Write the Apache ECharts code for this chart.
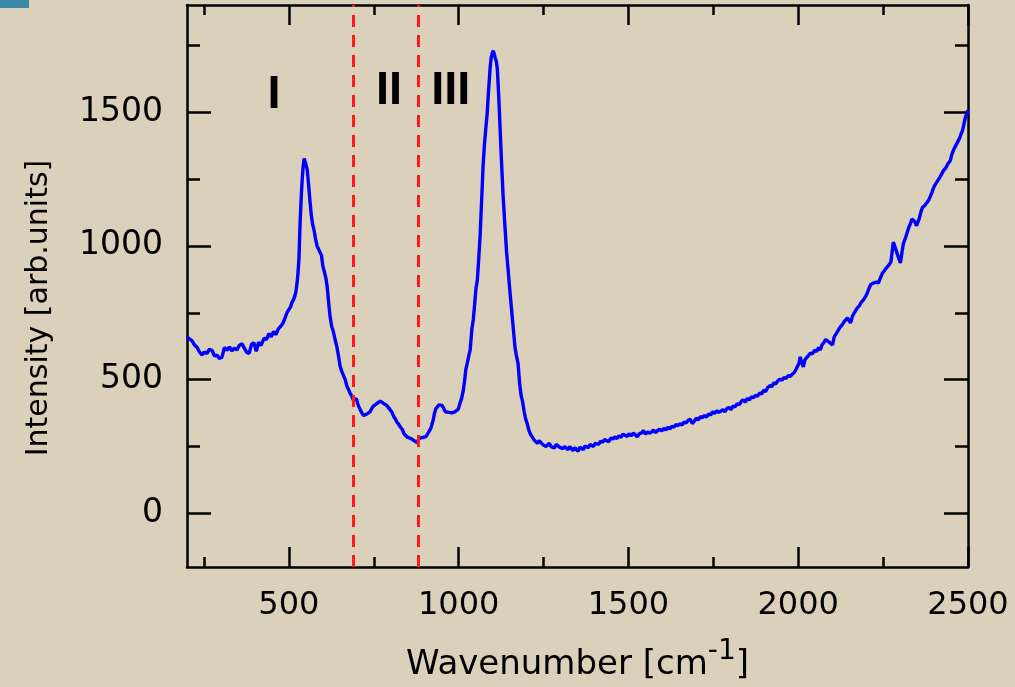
<!DOCTYPE html>
<html>
<head>
<meta charset="utf-8">
<script src="https://cdn.jsdelivr.net/npm/echarts@6/dist/echarts.min.js"></script>
<style>
html,body{margin:0;padding:0;background:#dbd1bb;}
#chart{width:1015px;height:687px;}
</style>
</head>
<body>
<div id="chart"></div>
<script>
// [wavenumber (cm^-1), intensity (arb. units)]
const spectrum = [
[200,660],[208,652],[215,645],[222,630],[229,622],[236,605],[244,592],[251,603],[259,598],[266,614],
[274,609],[281,588],[288,592],[295,579],[303,584],[310,620],[318,610],[325,622],[332,608],[339,618],
[347,611],[354,628],[362,634],[369,618],[376,602],[383,598],[390,632],[397,638],[404,606],[411,640],
[418,628],[427,655],[434,650],[441,672],[448,660],[455,680],[462,668],[469,690],[476,700],[483,712],
[490,735],[495,752],[500,745],[505,772],[509,788],[514,800],[518,815],[521,830],[524,860],[527,900],
[530,960],[533,1085],[536,1170],[539,1245],[542,1295],[545,1327],[548,1322],[551,1300],[554,1285],[558,1230],
[562,1170],[566,1115],[570,1080],[574,1060],[578,1030],[583,1000],[587,995],[592,975],[596,965],[600,925],
[604,905],[609,880],[613,846],[617,790],[621,740],[626,700],[631,680],[636,650],[641,625],[646,590],
[651,550],[656,530],[661,515],[666,500],[671,475],[676,462],[680,450],[685,440],[689,425],[694,420],
[699,428],[704,405],[710,388],[715,376],[720,366],[725,362],[730,372],[735,370],[739,380],[744,392],
[748,400],[753,395],[758,410],[763,416],[769,420],[774,418],[778,412],[783,414],[788,404],[793,398],
[798,388],[804,377],[809,362],[814,352],[819,340],[824,332],[829,322],[834,314],[839,298],[844,296],
[849,285],[854,290],[859,280],[864,282],[869,272],[874,276],[878,265],[883,280],[888,278],[893,284],
[898,290],[903,286],[908,296],[913,300],[918,318],[922,335],[925,350],[929,375],[933,392],[937,398],
[942,406],[946,402],[951,404],[956,392],[961,380],[966,386],[971,378],[976,372],[980,376],[984,370],
[989,380],[994,385],[999,390],[1004,412],[1009,432],[1013,455],[1017,490],[1021,537],[1025,560],[1030,590],
[1034,611],[1039,690],[1043,723],[1047,780],[1051,840],[1055,872],[1059,950],[1063,1032],[1067,1150],[1072,1300],
[1076,1380],[1080,1440],[1084,1495],[1088,1580],[1093,1670],[1096,1705],[1099,1720],[1102,1729],[1105,1715],[1108,1700],
[1111,1690],[1114,1660],[1118,1560],[1122,1440],[1126,1320],[1131,1185],[1136,1080],[1141,980],[1146,905],[1151,830],
[1156,760],[1161,690],[1166,620],[1170,590],[1175,560],[1180,480],[1184,440],[1188,420],[1193,380],[1197,355],
[1202,335],[1207,310],[1212,295],[1217,285],[1222,275],[1227,270],[1232,262],[1237,272],[1242,268],[1247,258],
[1252,262],[1257,250],[1262,244],[1267,262],[1272,250],[1277,255],[1282,245],[1287,258],[1292,260],[1297,248],
[1302,252],[1307,242],[1312,250],[1317,246],[1322,238],[1327,250],[1332,244],[1337,235],[1342,246],[1347,240],
[1352,232],[1357,248],[1362,244],[1367,238],[1372,252],[1377,250],[1382,246],[1387,258],[1392,255],[1397,250],
[1402,262],[1407,265],[1412,258],[1418,270],[1424,266],[1430,276],[1436,272],[1442,268],[1448,282],[1454,278],
[1460,286],[1466,280],[1472,290],[1478,285],[1484,296],[1490,292],[1496,288],[1502,298],[1508,290],[1514,300],
[1520,295],[1526,286],[1532,298],[1538,300],[1544,310],[1550,296],[1556,305],[1562,300],[1568,304],[1574,312],
[1580,302],[1586,310],[1592,315],[1598,308],[1604,318],[1610,312],[1616,322],[1622,316],[1628,326],[1634,322],
[1640,332],[1646,328],[1652,336],[1658,330],[1664,342],[1670,338],[1676,348],[1682,352],[1688,336],[1694,345],
[1700,356],[1706,350],[1712,362],[1718,358],[1724,366],[1730,360],[1736,372],[1742,368],[1748,380],[1754,374],
[1760,384],[1766,378],[1772,382],[1778,388],[1784,380],[1790,392],[1796,396],[1802,388],[1808,402],[1814,398],
[1820,410],[1826,406],[1832,418],[1838,425],[1844,416],[1850,430],[1856,424],[1862,436],[1868,432],[1874,442],
[1880,438],[1886,450],[1892,446],[1898,460],[1904,456],[1910,470],[1916,478],[1922,474],[1928,488],[1934,484],
[1940,496],[1946,502],[1952,498],[1958,508],[1964,504],[1970,515],[1976,512],[1982,520],[1988,526],[1994,540],
[1998,537],[2002,560],[2006,585],[2010,565],[2015,548],[2020,575],[2025,582],[2030,590],[2036,600],[2042,596],
[2048,610],[2054,605],[2060,620],[2065,611],[2070,630],[2076,640],[2081,650],[2086,656],[2091,640],[2096,636],
[2101,630],[2106,660],[2112,672],[2118,685],[2124,697],[2130,706],[2136,718],[2141,725],[2145,731],[2150,720],
[2154,712],[2160,738],[2166,752],[2170,760],[2174,768],[2180,776],[2186,790],[2192,798],[2198,810],[2204,826],
[2208,840],[2213,854],[2219,860],[2224,858],[2230,865],[2236,861],[2242,880],[2248,898],[2253,906],[2258,915],
[2263,921],[2268,930],[2273,940],[2277,947],[2280,1014],[2284,1000],[2288,984],[2292,984],[2297,950],[2301,936],
[2306,980],[2310,1010],[2316,1030],[2321,1050],[2326,1070],[2331,1085],[2335,1100],[2339,1107],[2344,1090],[2348,1075],
[2351,1070],[2356,1100],[2361,1125],[2366,1144],[2372,1150],[2378,1160],[2384,1170],[2389,1185],[2394,1200],[2398,1215],
[2403,1228],[2408,1238],[2413,1245],[2418,1258],[2423,1270],[2428,1282],[2434,1290],[2440,1305],[2444,1312],[2448,1319],
[2452,1340],[2457,1357],[2462,1370],[2467,1382],[2472,1394],[2476,1405],[2480,1420],[2484,1431],[2488,1455],[2492,1479],
[2496,1492],[2500,1506]
];
const xRange = [200, 2500];
const yRange = [-200, 1900];
const xMajorTicks = [500, 1000, 1500, 2000, 2500];
const xMinorTicks = [250, 750, 1250, 1750, 2250];
const yMajorTicks = [0, 500, 1000, 1500];
const yMinorTicks = [250, 750, 1250, 1750];
const boundaryLines = [690, 880];
const regionLabels = [[456, 1562, 'I'], [795, 1580, 'II'], [977, 1580, 'III']];

const FONT = 'DejaVu Sans';
const AX = '#000';
const LW = 2.5;
const plain = v => String(v);

function xAx(pos, ticks, len, main) {
  return {
    type: 'value', gridIndex: 0, position: pos, min: xRange[0], max: xRange[1],
    axisLine: {show: main, onZero: false, lineStyle: {color: AX, width: LW}},
    axisTick: {show: true, inside: true, length: len, customValues: ticks, lineStyle: {color: AX, width: LW}},
    axisLabel: (main && pos === 'bottom') ? {show: true, customValues: xMajorTicks, margin: 23, formatter: plain,
      color: '#000', fontFamily: FONT, fontSize: 32} : {show: false},
    splitLine: {show: false}
  };
}
function yAx(pos, ticks, len, main) {
  return {
    type: 'value', gridIndex: 0, position: pos, min: yRange[0], max: yRange[1],
    axisLine: {show: main, onZero: false, lineStyle: {color: AX, width: LW}},
    axisTick: {show: true, inside: true, length: len, customValues: ticks, lineStyle: {color: AX, width: LW}},
    axisLabel: (main && pos === 'left') ? {show: true, customValues: yMajorTicks, margin: 24, formatter: plain,
      color: '#000', fontFamily: FONT, fontSize: 33} : {show: false},
    splitLine: {show: false}
  };
}

const xAxes = [
  xAx('bottom', xMajorTicks, 20, true),
  xAx('bottom', xMinorTicks, 10, false),
  xAx('top', xMajorTicks, 20, true),
  xAx('top', xMinorTicks, 10, false)
];
xAxes[0].name = '{a|Wavenumber [cm}{s|-1}{a|]}';
xAxes[0].nameLocation = 'middle';
xAxes[0].nameGap = 71;
xAxes[0].nameTextStyle = {
  rich: {
    a: {fontFamily: FONT, fontSize: 34, color: '#000', lineHeight: 44, verticalAlign: 'bottom'},
    s: {fontFamily: FONT, fontSize: 28, color: '#000', lineHeight: 28, verticalAlign: 'top'}
  }
};
const yAxes = [
  yAx('left', yMajorTicks, 24, true),
  yAx('left', yMinorTicks, 13, false),
  yAx('right', yMajorTicks, 24, true),
  yAx('right', yMinorTicks, 13, false)
];
yAxes[0].name = 'Intensity [arb.units]';
yAxes[0].nameLocation = 'middle';
yAxes[0].nameGap = 133;
yAxes[0].nameTextStyle = {fontFamily: FONT, fontSize: 30, color: '#000', padding: [0, 44, 0, 0]};

const chart = echarts.init(document.getElementById('chart'), null, {renderer: 'canvas'});
chart.setOption({
  animation: false,
  backgroundColor: '#dbd1bb',
  grid: {left: 187, right: 47, top: 5, bottom: 119, containLabel: false},
  xAxis: xAxes,
  yAxis: yAxes,
  graphic: [{type: 'rect', left: 0, top: 0, shape: {width: 29, height: 8}, style: {fill: '#3b87a7'}}],
  series: [
    {
      type: 'line', xAxisIndex: 0, yAxisIndex: 0, data: spectrum, showSymbol: false, smooth: false,
      lineStyle: {color: '#0000ff', width: 3.4}, z: 3,
      markLine: {
        silent: true, symbol: 'none', label: {show: false},
        lineStyle: {color: '#ff1a1a', width: 3, type: [12, 8]},
        data: boundaryLines.map(v => ({xAxis: v}))
      }
    },
    {
      type: 'scatter', xAxisIndex: 0, yAxisIndex: 0, symbolSize: 0, silent: true,
      itemStyle: {opacity: 1},
      data: regionLabels.map(r => ({value: [r[0], r[1]], name: r[2]})),
      label: {show: true, position: 'inside', formatter: p => p.name, color: '#000', opacity: 1,
        fontFamily: 'Liberation Sans', fontWeight: 'bold', fontSize: 47}
    }
  ]
});
</script>
</body>
</html>
